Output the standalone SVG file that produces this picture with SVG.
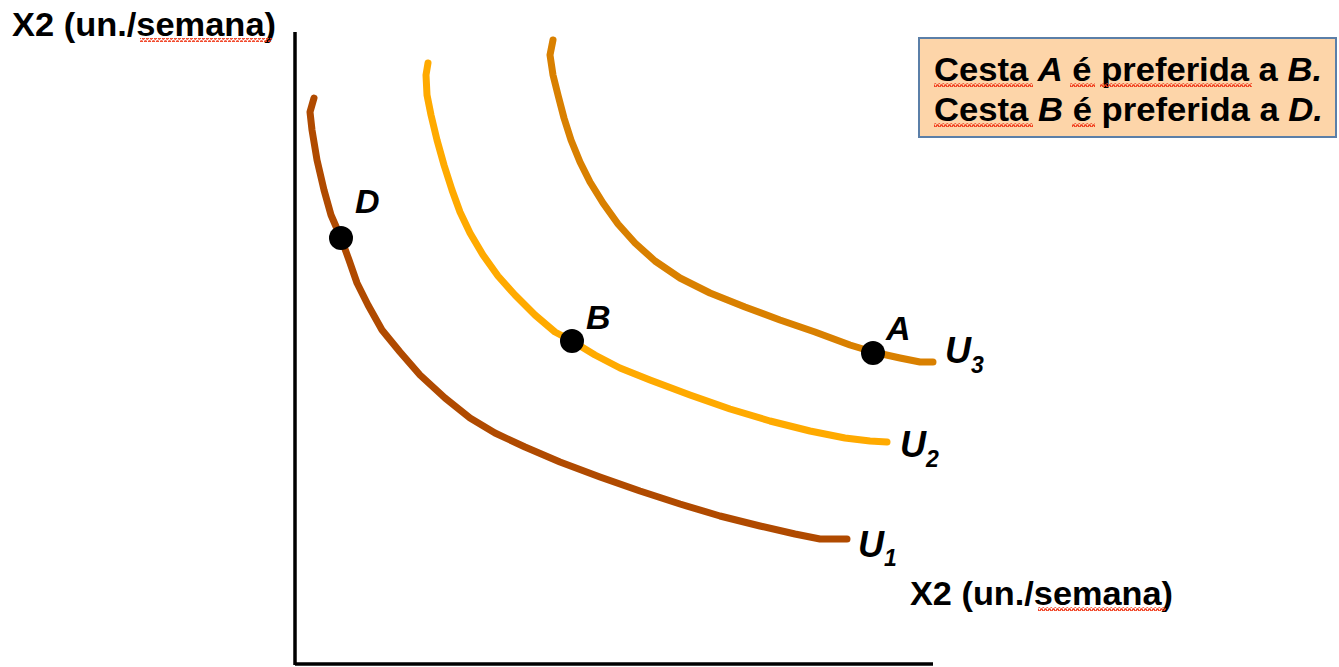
<svg xmlns="http://www.w3.org/2000/svg" width="1339" height="667" viewBox="0 0 1339 667">
<style>
.lbl{font-family:"Liberation Sans",Arial,sans-serif;font-weight:bold;fill:#000}
.it{font-style:italic}
.curve{fill:none;stroke-width:7;stroke-linecap:round;stroke-linejoin:round}
.axis{stroke:#000;stroke-width:3.5;fill:none}
.dot{fill:#000}
.sq{fill:url(#squig)}
</style>
<defs>
<pattern id="squig" width="4" height="4" patternUnits="userSpaceOnUse">
<path d="M0,3 L1,1 L2,1 L3,3 L4,3" fill="none" stroke="#F03A1A" stroke-width="1.3"/>
</pattern>
</defs>
<rect width="1339" height="667" fill="#fff"/>
<g id="axes">
<line class="axis" x1="295" y1="32" x2="295" y2="665"/>
<line class="axis" x1="295" y1="664" x2="933" y2="664"/>
</g>
<g id="axis-labels">
<text class="lbl" x="12" y="36" font-size="34" textLength="264" lengthAdjust="spacingAndGlyphs">X2 (un./semana)</text>
<rect class="sq" x="140" y="38" width="132" height="4"/>
<text class="lbl" x="910" y="605" font-size="34" textLength="263" lengthAdjust="spacingAndGlyphs">X2 (un./semana)</text>
<rect class="sq" x="1038" y="607" width="128" height="4"/>
</g>
<g id="connectors">
<polyline id="U1-curve" class="curve" stroke="#B04A00" points="314,98 310,112 312,130 317,160 324,190 331,215 341,238 349,260 357,283 368,305 382,330 400,352 420,375 445,398 470,418 495,433 525,447 560,462 600,477 640,491 680,504 720,516 760,526 795,534 820,539 847,539"/>
<polyline id="U2-curve" class="curve" stroke="#FFAA00" points="428,63 426,75 427,95 431,115 437,140 444,165 452,190 460,212 470,233 483,255 498,276 515,295 535,315 555,332 572,341 595,355 620,368 650,380 690,395 730,409 770,421 810,431 845,438 870,441 887,442"/>
<polyline id="U3-curve" class="curve" stroke="#D98000" points="553,40 550,55 553,75 558,95 564,118 571,140 580,162 590,182 603,203 618,224 635,243 655,261 680,278 710,293 745,307 780,320 815,332 850,345 873,352 900,358 920,362 933,362"/>
</g>
<g id="U1">
<text class="lbl it" x="858" y="557" font-size="36">U<tspan font-size="23" dy="9">1</tspan></text>
</g>
<g id="U2">
<text class="lbl it" x="900" y="457" font-size="36">U<tspan font-size="23" dy="10">2</tspan></text>
</g>
<g id="U3">
<text class="lbl it" x="945" y="363" font-size="36">U<tspan font-size="23" dy="10">3</tspan></text>
</g>
<g id="D">
<circle class="dot" cx="341" cy="238" r="12"/>
<text class="lbl it" x="355" y="213" font-size="34">D</text>
</g>
<g id="B">
<circle class="dot" cx="572" cy="341" r="12"/>
<text class="lbl it" x="586" y="329" font-size="34">B</text>
</g>
<g id="A">
<circle class="dot" cx="873" cy="353" r="12"/>
<text class="lbl it" x="886" y="340" font-size="34">A</text>
</g>
<g id="note">
<rect x="919" y="38" width="417" height="99" fill="#FDD5A9" stroke="#5B7FA8" stroke-width="2"/>
<text class="lbl" x="934" y="81" font-size="34" textLength="388" lengthAdjust="spacingAndGlyphs">Cesta <tspan class="it">A</tspan> é preferida a <tspan class="it">B.</tspan></text>
<text class="lbl" x="934" y="121" font-size="34" textLength="389" lengthAdjust="spacingAndGlyphs">Cesta <tspan class="it">B</tspan> é preferida a <tspan class="it">D.</tspan></text>
<rect class="sq" x="934" y="83" width="99" height="4"/>
<rect class="sq" x="1070" y="83" width="25" height="4"/>
<rect class="sq" x="1100" y="83" width="152" height="4"/>
<rect class="sq" x="934" y="123" width="99" height="4"/>
<rect class="sq" x="1072" y="123" width="23" height="4"/>
</g>
</svg>
